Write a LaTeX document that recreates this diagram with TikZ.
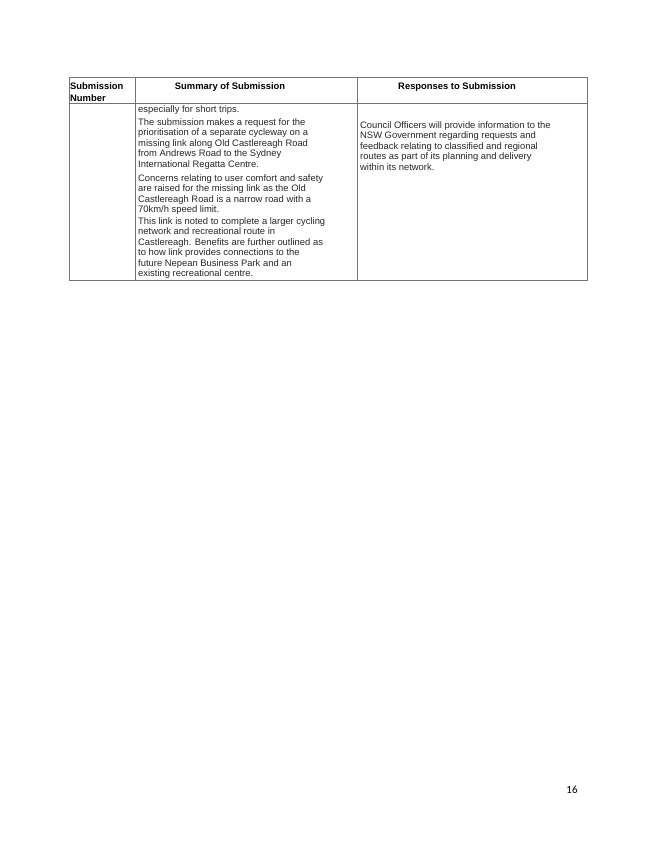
\documentclass[tikz,border=0pt]{standalone}
\usepackage{fontspec}
\setmainfont{Liberation Sans}
\newfontfamily\pnum{Carlito}
\begin{document}
\begin{tikzpicture}[x=1pt,y=-1pt,
  txt/.style={anchor=north west,inner sep=0pt,align=left,font=\fontsize{9.4}{10.5}\selectfont,text=black!85},
  hdr/.style={anchor=base,inner sep=0pt,font=\fontsize{9.4}{12}\selectfont\bfseries},
  grid/.style={draw=black!55,line width=0.6pt}]
\useasboundingbox (0,0) rectangle (656,849);
\draw[grid] (69,77) rectangle (587,280);
\draw[grid] (69,103) -- (587,103);
\draw[grid] (135,77) -- (135,280);
\draw[grid] (357,77) -- (357,280);
\node[hdr,anchor=north west,align=left] (h1) at (70,82) {Submission\\Number};
\node[hdr] (h2) at (230,89) {Summary of Submission};
\node[hdr] (h3) at (457,89) {Responses to Submission};
\node[txt] (p1) at (138,105) {especially for short trips.};
\node[txt] (p2) at (138,118) {The submission makes a request for the\\prioritisation of a separate cycleway on a\\missing link along Old Castlereagh Road\\from Andrews Road to the Sydney\\International Regatta Centre.};
\node[txt] (p3) at (138,174) {Concerns relating to user comfort and safety\\are raised for the missing link as the Old\\Castlereagh Road is a narrow road with a\\70km/h speed limit.};
\node[txt] (p4) at (138,217) {This link is noted to complete a larger cycling\\network and recreational route in\\Castlereagh. Benefits are further outlined as\\to how link provides connections to the\\future Nepean Business Park and an\\existing recreational centre.};
\node[txt] (r1) at (360,121) {Council Officers will provide information to the\\NSW Government regarding requests and\\feedback relating to classified and regional\\routes as part of its planning and delivery\\within its network.};
\node[anchor=base,inner sep=0pt,font=\pnum\fontsize{11}{13}\selectfont] (pg) at (572,793) {16};
\end{tikzpicture}
\end{document}
